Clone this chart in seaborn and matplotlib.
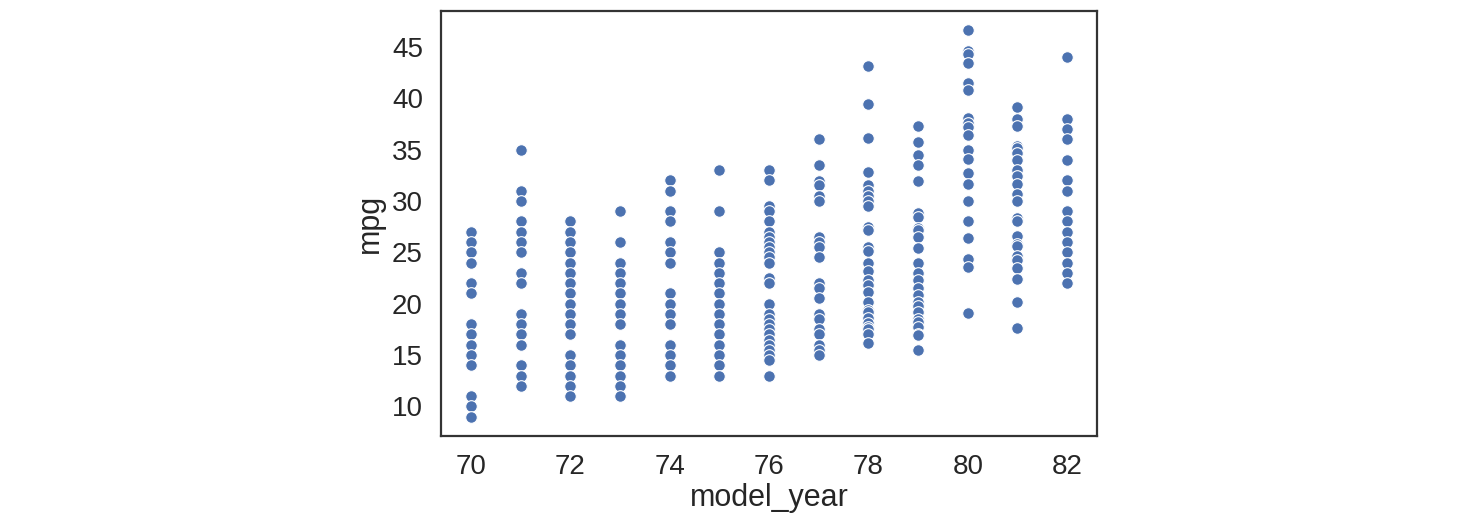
import matplotlib
matplotlib.use("Agg")
import matplotlib.pyplot as plt
import seaborn as sns
import pandas as pd

# mpg values per model year
mpg_70 = [27, 26, 25, 24, 22, 21, 18, 17, 16, 15, 14, 11, 10, 9]
mpg_71 = [35, 31, 30, 28, 27, 26, 25, 23, 22, 19, 18, 17, 16, 14, 13, 12]
mpg_72 = [28, 27, 26, 25, 24, 23, 22, 21, 20, 19, 18, 17, 15, 14, 13, 12, 11]
mpg_73 = [29, 26, 24, 23, 22, 21, 20, 19, 18, 16, 15, 14, 13, 12, 11]
mpg_74 = [32, 31, 29, 28, 26, 25, 24, 21, 20, 19, 18, 16, 15, 14, 13]
mpg_75 = [33, 29, 25, 24, 23, 22, 21, 20, 19, 18, 17, 16, 15, 14, 13]
mpg_76 = [33, 32, 29.5, 29, 28, 27, 26.5, 26, 25.5, 25, 24.5, 24, 22.5, 22,
          20, 19, 18.5, 18, 17.5, 17, 16.5, 16, 15.5, 15, 14.5, 13]
mpg_77 = [36, 33.5, 31.9, 31.5, 30.5, 30, 26.5, 26, 25.5, 24.5, 22, 21.5,
          20.5, 19, 18.5, 17.5, 17, 16, 15.5, 15]
mpg_78 = [43.1, 39.4, 36.1, 32.8, 31.5, 31, 30.5, 30, 29.5, 27.5, 27.2,
          25.5, 25.1, 24, 23.2, 22.3, 21.8, 21.1, 20.2, 19.4, 19.2, 18.6,
          18.1, 17.7, 17.5, 17, 16.2]
mpg_79 = [37.3, 35.7, 34.5, 33.5, 31.9, 28.8, 28.4, 27.4, 27.2, 26.5, 25.4,
          24, 23, 22.3, 21.5, 20.8, 20.2, 19.8, 19.2, 18.5, 18.2, 17.7,
          17, 16.9, 15.5]
mpg_80 = [46.6, 44.6, 44.3, 43.4, 41.5, 40.8, 38.1, 37.6, 37.2, 36.4,
          35, 34.1, 32.7, 31.6, 30, 28, 26.4, 24.3, 23.6, 19.1]
mpg_81 = [39.1, 38, 37.3, 35.3, 35.1, 34.7, 34, 33, 32.4, 31.6, 30.7, 30,
          28.3, 28, 26.6, 25.8, 25.6, 24.6, 24.2, 23.5, 22.4, 20.2, 17.6]
mpg_82 = [44, 38, 37, 36, 34, 32, 31, 29, 28, 27, 26, 25, 24, 23, 22]

years = list(range(70, 83))
groups = [mpg_70, mpg_71, mpg_72, mpg_73, mpg_74, mpg_75, mpg_76,
          mpg_77, mpg_78, mpg_79, mpg_80, mpg_81, mpg_82]

rows = []
for yr, vals in zip(years, groups):
    for v in vals:
        rows.append((yr, v))
df = pd.DataFrame(rows, columns=["model_year", "mpg"])

sns.set_style("white")
plt.rcParams["font.family"] = ["Liberation Sans", "DejaVu Sans"]
plt.rcParams["text.color"] = "0.15"
plt.rcParams["axes.labelcolor"] = "0.15"
plt.rcParams["xtick.color"] = "0.15"
plt.rcParams["ytick.color"] = "0.15"

fig = plt.figure(figsize=(14.76, 5.14), dpi=100)
ax = fig.add_axes([0.2988, 0.1518, 0.4444, 0.8268])

sns.scatterplot(data=df, x="model_year", y="mpg", ax=ax,
                color="#4C72B0", s=70, edgecolor="white", linewidth=0.8)

ax.set_xticks([70, 72, 74, 76, 78, 80, 82])
ax.set_yticks([10, 15, 20, 25, 30, 35, 40, 45])
ax.tick_params(labelsize=20, length=0, pad=13)
ax.set_xlabel("model_year", fontsize=22, labelpad=2)
ax.set_ylabel("mpg", fontsize=22, labelpad=5)
for sp in ax.spines.values():
    sp.set_color("0.2")
    sp.set_linewidth(1.6)

fig.savefig("out.png", dpi=100)
